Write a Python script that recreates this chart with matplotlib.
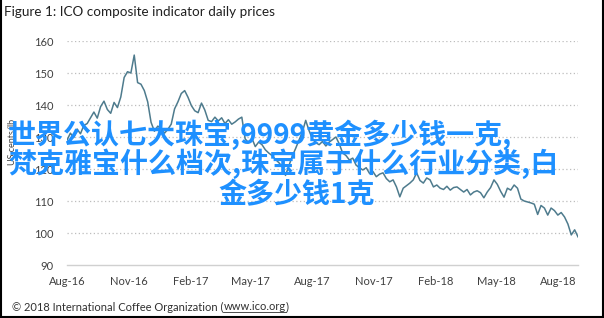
#!/usr/bin/env python3
"""ICO composite indicator daily prices, Aug 2016 - Aug 2018."""

import numpy as np
import pandas as pd
import matplotlib
matplotlib.use("Agg")
import matplotlib.pyplot as plt
import matplotlib.dates as mdates
from matplotlib.lines import Line2D

# Dates: one reading every 5 days
dates = pd.date_range("2016-08-01", periods=153, freq="5D")

# Prix (US cents/lb)
prices = [
    129.0, 131.2, 129.8, 132.5, 131.0, 133.6, 134.2, 136.0, 137.8, 135.9,
    139.5, 141.2, 138.6, 137.4, 140.8, 139.2, 142.5, 148.6, 150.4, 150.0,
    155.6, 147.0, 146.5, 144.5, 141.0, 134.6, 131.8, 133.4, 132.6, 131.2,
    132.4, 134.0, 138.8, 141.0, 143.6, 144.5, 142.4, 139.8, 138.2, 137.6,
    140.6, 138.4, 135.2, 134.8, 136.2, 135.0, 136.0, 134.2, 135.4, 134.0,
    134.7, 135.6, 136.2, 129.4, 128.2, 129.6, 127.0, 128.4, 127.6, 126.0,
    125.0, 124.2, 123.0, 122.0, 120.8, 118.0, 121.0, 124.0, 126.4, 129.0,
    131.5, 135.2, 132.0, 129.4, 128.2, 127.6, 128.6, 127.2, 128.4, 129.2,
    130.0, 127.8, 125.0, 124.2, 122.8, 123.4, 121.2, 120.4, 119.7, 120.4,
    118.6, 119.2, 117.6, 118.4, 118.8, 117.0, 116.0, 116.6, 114.4, 111.3,
    114.0, 114.8, 115.6, 116.6, 118.8, 116.4, 115.6, 117.2, 116.6, 114.4,
    115.0, 114.0, 113.6, 114.6, 113.4, 114.2, 114.4, 113.6, 112.8, 113.6,
    111.9, 112.8, 113.2, 112.6, 111.0, 112.8, 114.2, 116.6, 115.2, 113.0,
    111.2, 114.0, 113.4, 115.0, 114.0, 110.6, 110.0, 109.7, 109.4, 109.0,
    105.8, 108.6, 107.8, 105.6, 107.8, 107.0, 105.6, 106.4, 105.0, 102.8,
    99.4, 101.0, 98.8,
]

tick_dates = pd.to_datetime([
    "2016-08-01", "2016-11-01", "2017-02-01", "2017-05-01", "2017-08-01",
    "2017-11-01", "2018-02-01", "2018-05-01", "2018-08-01",
])
y_ticks = [90, 100, 110, 120, 130, 140, 150, 160]

title = "Figure 1: ICO composite indicator daily prices"
y_label = "US cents/lb"
footer_a = "\u00a9 2018 International Coffee Organization ("
footer_link = "www.ico.org"
footer_b = ")"
overlay_lines = [
    "世界公认七大珠宝,9999黄金多少钱一克,",
    "梵克雅宝什么档次,珠宝属于什么行业分类,白",
    "金多少钱1克",
]

W, H = 604, 318
fig = plt.figure(figsize=(W / 100, H / 100), dpi=100)
ax = fig.add_axes([67 / W, 1 - 265 / H, (578 - 67) / W, (265 - 41) / H])

ax.plot(dates, prices, color="#4E7B8D", linewidth=1.1)

ax.set_ylim(90, 160)
ax.set_xlim(pd.Timestamp("2016-08-01"), pd.Timestamp("2018-08-31"))
ax.set_yticks(y_ticks)
ax.set_xticks(tick_dates)
ax.xaxis.set_major_formatter(mdates.DateFormatter("%b-%y"))

for v in y_ticks[1:]:
    ax.axhline(v, color="#BDBDBD", linewidth=0.9, linestyle=(0, (1, 2)), zorder=0)

for s in ["top", "right", "left"]:
    ax.spines[s].set_visible(False)
ax.spines["bottom"].set_color("#D0D0D0")
ax.spines["bottom"].set_linewidth(1.0)
ax.tick_params(axis="both", length=0, labelsize=8, labelcolor="#404040")
ax.tick_params(axis="y", pad=10)
ax.tick_params(axis="x", pad=8)
for lab in ax.get_xticklabels() + ax.get_yticklabels():
    lab.set_family("Lato")

fig.text(12 / W, 1 - 142 / H, y_label, rotation=90, ha="center", va="center",
         fontsize=6.5, color="#404040", family="Lato")

fig.text(4 / W, 1 - 12 / H, title, ha="left", va="center",
         fontsize=9.7, color="#202020", family="Lato")

# Pied de page avec le lien souligné
renderer = fig.canvas.get_renderer()
fy = 1 - 307 / H
t1 = fig.text(12 / W, fy, footer_a, ha="left", va="center", fontsize=8,
              color="#303030", family="Lato")
bb1 = t1.get_window_extent(renderer)
t2 = fig.text(bb1.x1 / W, fy, footer_link, ha="left", va="center", fontsize=8,
              color="#303030", family="Lato")
bb2 = t2.get_window_extent(renderer)
fig.add_artist(Line2D([bb2.x0 / W, bb2.x1 / W], [(bb2.y0 + 1) / H] * 2,
                      color="#303030", linewidth=0.6))
fig.text(bb2.x1 / W, fy, footer_b, ha="left", va="center", fontsize=8,
         color="#303030", family="Lato")

# Cadre (gauche, droite, bas)
for xs, ys in [([0.5 / W] * 2, [0, 1]), ([1 - 1 / W] * 2, [0, 1]),
               ([0, 1], [1 / H] * 2)]:
    fig.add_artist(Line2D(xs, ys, color="black", linewidth=1.5))

# Texte en surimpression
cjk = ["Noto Sans CJK SC", "DejaVu Sans"]
fig.text(8 / W, 1 - 135 / H, overlay_lines[0], ha="left", va="center",
         fontsize=20.2, color="#1E90FF", family=cjk, weight="bold")
fig.text(8 / W, 1 - 164 / H, overlay_lines[1], ha="left", va="center",
         fontsize=20.2, color="#1E90FF", family=cjk, weight="bold")
fig.text(297 / W, 1 - 195 / H, overlay_lines[2], ha="center", va="center",
         fontsize=20.2, color="#1E90FF", family=cjk, weight="bold")

fig.savefig("out.png", dpi=100)
